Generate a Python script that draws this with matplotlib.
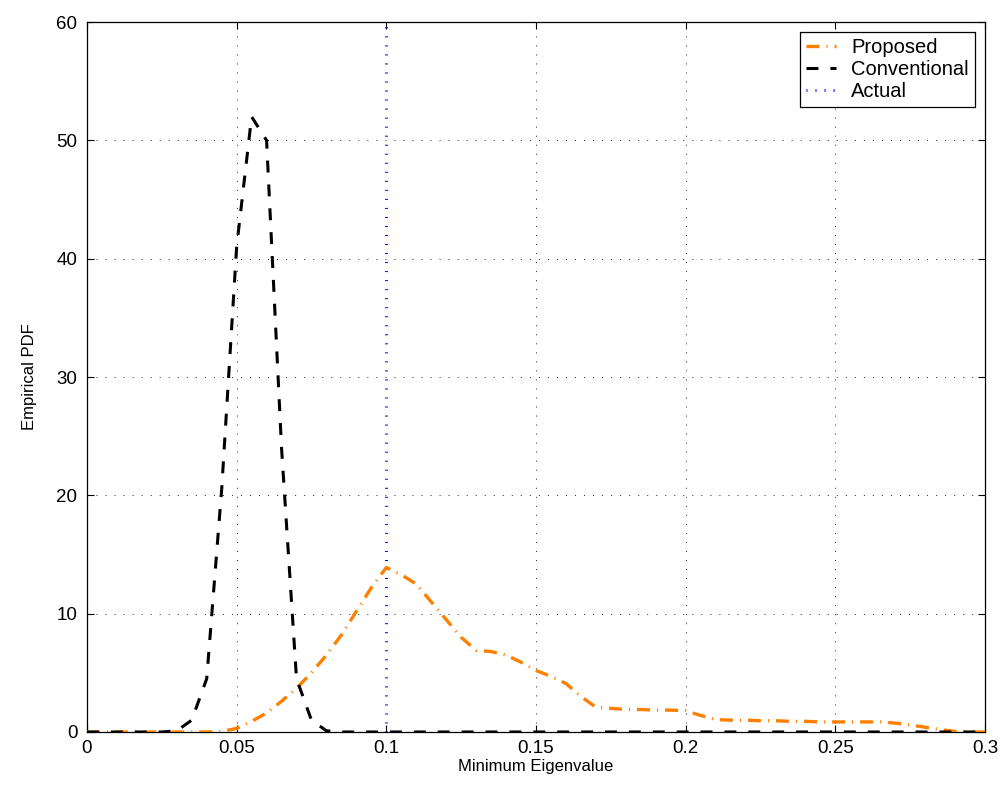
import matplotlib
matplotlib.use("Agg")
import matplotlib.pyplot as plt
import numpy as np

plt.rcParams['font.family'] = ['Liberation Sans', 'DejaVu Sans']
plt.rcParams['lines.scale_dashes'] = False

# Data
x_vals = [round(0.005 * i, 3) for i in range(61)]
proposed = [0, 0, 0, 0, 0, 0, 0, 0, 0, 0.05,
            0.3, 0.9, 1.6, 2.6, 3.7, 5.0, 6.5, 8.2, 10.2, 12.2,
            13.9, 13.3, 12.5, 11.0, 9.5, 8.0, 6.9, 6.8, 6.5, 5.9,
            5.2, 4.7, 4.1, 3.0, 2.1, 2.0, 1.9, 1.9, 1.85, 1.85,
            1.8, 1.4, 1.05, 1.0, 1.0, 0.95, 0.95, 0.9, 0.9, 0.85,
            0.85, 0.85, 0.85, 0.85, 0.75, 0.6, 0.4, 0.2, 0.05, 0, 0]
conventional = [0, 0, 0, 0, 0, 0, 0.1, 1.0, 4.5, 20.5,
                41.0, 52.0, 50.0, 24.0, 4.5, 1.0, 0.1, 0, 0, 0,
                0, 0, 0, 0, 0, 0, 0, 0, 0, 0,
                0, 0, 0, 0, 0, 0, 0, 0, 0, 0,
                0, 0, 0, 0, 0, 0, 0, 0, 0, 0,
                0, 0, 0, 0, 0, 0, 0, 0, 0, 0, 0]
actual_x = 0.1
x_ticks = [0, 0.05, 0.1, 0.15, 0.2, 0.25, 0.3]
x_tick_labels = ['0', '0.05', '0.1', '0.15', '0.2', '0.25', '0.3']
y_ticks = [0, 10, 20, 30, 40, 50, 60]
series_labels = ['Proposed', 'Conventional', 'Actual']

fig = plt.figure(figsize=(10.02, 7.87), dpi=100)
ax = fig.add_axes([0.0868, 0.0699, 0.8962, 0.9021])

ax.plot(x_vals, proposed, color='#ff8000', linewidth=2.4,
        dashes=(9.4, 5.0, 0.8, 5.0), label=series_labels[0], zorder=3)
ax.plot(x_vals, conventional, color='black', linewidth=2.2,
        dashes=(8.6, 8.6), label=series_labels[1], zorder=3)
ax.axvline(actual_x, color='#0000ff', linewidth=2.2,
           dashes=(0.7, 5.8), label=series_labels[2], zorder=2)

ax.set_xlim(0, 0.3)
ax.set_ylim(0, 60)
ax.set_xticks(x_ticks)
ax.set_xticklabels(x_tick_labels)
ax.set_yticks(y_ticks)
ax.tick_params(direction='in', length=5, width=0.8, labelsize=13.5,
               top=True, right=True, colors='black')
ax.tick_params(axis='x', pad=6)
ax.tick_params(axis='y', pad=7)
ax.grid(True, color='black', linewidth=0.6, dashes=(0.7, 5.8))
ax.set_axisbelow(True)
for t, gl in zip(x_ticks, ax.get_xgridlines()):
    if abs(t - actual_x) < 1e-9:
        gl.set_visible(False)
for s in ax.spines.values():
    s.set_linewidth(0.9)

ax.set_xlabel('Minimum Eigenvalue', fontsize=12, labelpad=1)
ax.set_ylabel('Empirical PDF', fontsize=12, labelpad=14)

leg = ax.legend(loc='upper right', fontsize=14.5, frameon=True, fancybox=False,
                edgecolor='black', framealpha=1, handlelength=1.5,
                borderpad=0.3, labelspacing=0.15, handletextpad=0.75,
                borderaxespad=0.5)
leg.get_frame().set_linewidth(0.9)

fig.savefig('out.png', dpi=100)
